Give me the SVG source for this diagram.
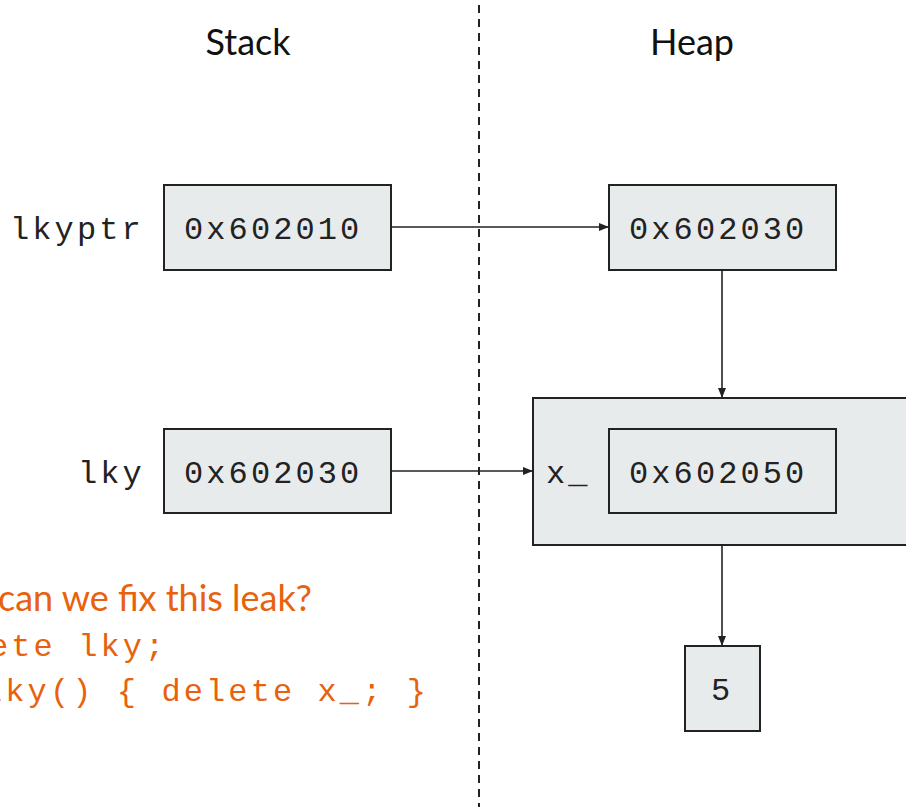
<svg xmlns="http://www.w3.org/2000/svg" width="906" height="807" viewBox="0 0 906 807">
<defs>
<style>
.box{fill:#e8ebec;stroke:#222;stroke-width:2}
.mono{font-family:"Liberation Mono","Courier New",monospace;font-size:32px;letter-spacing:3.1px;fill:#222}
.title{font-family:Lato,"Open Sans",sans-serif;font-size:36px;fill:#111;text-anchor:middle}
.orange{fill:#e8610d}
.conn{stroke:#222;stroke-width:1.6;fill:none;marker-end:url(#ah)}
</style>
<marker id="ah" viewBox="0 0 10 10" refX="10" refY="5" markerWidth="10" markerHeight="10" markerUnits="userSpaceOnUse" orient="auto">
<path d="M0,1 L10,5 L0,9 Z" fill="#222"/>
</marker>
</defs>
<rect width="906" height="807" fill="#fff"/>
<line x1="479" y1="5" x2="479" y2="807" stroke="#222" stroke-width="2" stroke-dasharray="8 6"/>
<g id="title-stack"><text class="title" x="248" y="55">Stack</text></g>
<g id="title-heap"><text class="title" x="692" y="55">Heap</text></g>
<g id="lkyptr">
<text class="mono" x="10" y="239">lkyptr</text>
<rect class="box" x="164" y="185" width="227" height="85"/>
<text class="mono" x="184" y="239">0x602010</text>
</g>
<g id="lky">
<text class="mono" x="78" y="483">lky</text>
<rect class="box" x="164" y="429" width="227" height="84"/>
<text class="mono" x="184" y="483">0x602030</text>
</g>
<g id="heap-ptr">
<rect class="box" x="609" y="185" width="227" height="85"/>
<text class="mono" x="629" y="239">0x602030</text>
</g>
<g id="heap-obj">
<rect class="box" x="533" y="398" width="400" height="147"/>
<text class="mono" x="546" y="483">x_</text>
<rect class="box" x="609" y="429" width="227" height="84"/>
<text class="mono" x="629" y="483">0x602050</text>
</g>
<g id="heap-int">
<rect class="box" x="685" y="646" width="75" height="85"/>
<text class="mono" x="711" y="700">5</text>
</g>
<g id="connectors">
<line class="conn" x1="391" y1="227" x2="609" y2="227"/>
<line class="conn" x1="391" y1="471" x2="533" y2="471"/>
<line class="conn" x1="722" y1="270" x2="722" y2="398"/>
<line class="conn" x1="722" y1="545" x2="722" y2="646"/>
</g>
<g id="question">
<text x="-2" y="611" font-family="Lato,'Open Sans',sans-serif" font-size="36" class="orange">can we fix this leak?</text>
<text class="mono orange" x="-11" y="656">ete lky;</text>
<text class="mono orange" x="-17" y="701">lky() { delete x_; }</text>
</g>
</svg>
